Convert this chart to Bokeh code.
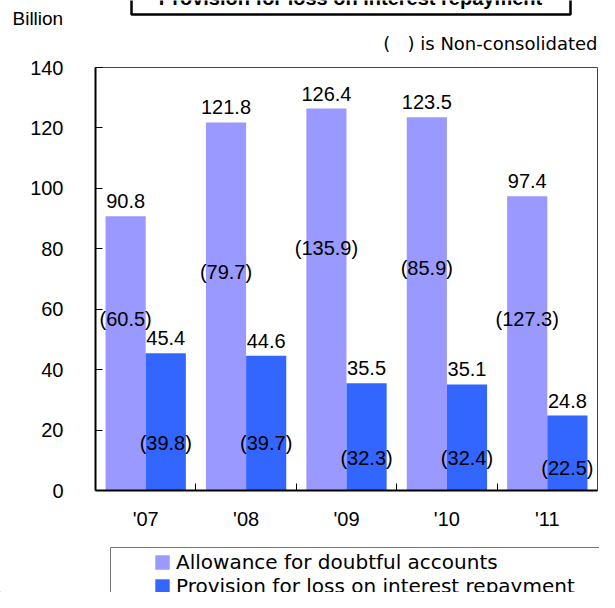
import numpy as np
from bokeh.plotting import figure
from bokeh.layouts import column
from bokeh.models import (Range1d, FixedTicker, Label, BoxAnnotation, Legend,
                          LegendItem, ColumnDataSource)
from bokeh.embed import file_html
from bokeh.resources import INLINE
from bokeh.core.properties import value

# ---------------- data ----------------
years = ["'07", "'08", "'09", "'10", "'11"]
allowance = [90.8, 121.8, 126.4, 123.5, 97.4]
provision = [45.4, 44.6, 35.5, 35.1, 24.8]
allowance_nc = [60.5, 79.7, 135.9, 85.9, 127.3]   # non-consolidated
provision_nc = [39.8, 39.7, 32.3, 32.4, 22.5]     # non-consolidated
y_ticks = [0, 20, 40, 60, 80, 100, 120, 140]
series_names = ["Allowance for doubtful accounts", "Provision for loss on interest repayment"]
chart_title = "Provision for loss on interest repayment"
unit_text = "Billion"
note_text = "(\u00a0\u00a0\u00a0)\u00a0is Non-consolidated"

# label placement (data units) for the bracketed non-consolidated values
allowance_nc_at = [56.9, 72.2, 80.4, 73.5, 56.6]
provision_nc_at = [15.6, 15.6, 10.9, 10.9, 7.3]

NUM_FONT = "Liberation Sans"
TXT_FONT = "DejaVu Sans"
C_LIGHT = "#9999FF"
C_BLUE = "#3366FF"
W = 599

centers = np.arange(len(years)) + 0.5
x_light = centers - 0.2
x_blue = centers + 0.2

src = ColumnDataSource(dict(
    xl=x_light, xb=x_blue,
    a=allowance, p=provision,
    a_txt=[f"{v:.1f}" for v in allowance],
    p_txt=[f"{v:.1f}" for v in provision],
    anc_txt=[f"({v:.1f})" for v in allowance_nc],
    pnc_txt=[f"({v:.1f})" for v in provision_nc],
    anc_y=allowance_nc_at, pnc_y=provision_nc_at,
))


def no_align(f):
    if "frame_align" in f.properties():
        f.frame_align = False
    return f


def blank(height):
    f = figure(width=W, height=height, x_range=Range1d(0, W), y_range=Range1d(0, height),
               output_backend="svg", toolbar_location=None, tools="",
               x_axis_location=None, y_axis_location=None, title_location=None,
               min_border=0, outline_line_color=None,
               background_fill_color="white", border_fill_color="white")
    f.grid.visible = False
    return no_align(f)

# ---------------- header ----------------
HH = 56
header = blank(HH)
header.add_layout(BoxAnnotation(left=131, right=570, bottom=HH - 14, top=HH + 40,
                                fill_color="white", fill_alpha=1,
                                line_color="black", line_alpha=1, line_width=2.5))
header.add_layout(Label(x=350, y=HH - 8, text=chart_title,
                        text_font=NUM_FONT, text_font_style="bold", text_font_size="20px",
                        text_align="center", text_baseline="bottom", text_color="black"))
header.add_layout(Label(x=12, y=HH - 18, text=unit_text,
                        text_font=NUM_FONT, text_font_size="19px", text_align="left",
                        text_baseline="middle", text_color="black"))
header.add_layout(Label(x=597, y=HH - 43, text=note_text,
                        text_font=TXT_FONT, text_font_size="18px", text_align="right",
                        text_baseline="middle", text_color="black"))

# ---------------- main chart ----------------
TOP = 67 - HH
BOT = 55
p = figure(width=W, height=TOP + 423 + BOT, x_range=Range1d(0, len(years)),
           y_range=Range1d(0, 140), output_backend="svg",
           toolbar_location=None, tools="", title_location=None,
           min_border_left=95, min_border_right=2,
           min_border_top=TOP, min_border_bottom=BOT,
           background_fill_color="white", border_fill_color="white",
           outline_line_color="#444444", outline_line_width=1)
no_align(p)
p.grid.visible = False

r1 = p.vbar(x="xl", top="a", width=0.4, source=src, fill_color=C_LIGHT, line_color=None)
r2 = p.vbar(x="xb", top="p", width=0.4, source=src, fill_color=C_BLUE, line_color=None)

common = dict(text_font=value(NUM_FONT), text_font_size="20px", text_color="black",
              text_align="center")
p.text(x="xl", y="a", text="a_txt", source=src, text_baseline="alphabetic", y_offset=-15, **common)
p.text(x="xb", y="p", text="p_txt", source=src, text_baseline="alphabetic", y_offset=-15, **common)
p.text(x="xl", y="anc_y", text="anc_txt", source=src, text_baseline="middle", **common)
p.text(x="xb", y="pnc_y", text="pnc_txt", source=src, text_baseline="middle", **common)

ya = p.yaxis[0]
ya.ticker = FixedTicker(ticks=y_ticks)
ya.major_tick_in = 7
ya.major_tick_out = 0
ya.minor_tick_line_color = None
ya.axis_line_width = 2
ya.axis_line_color = "black"
ya.major_tick_line_color = "black"
ya.major_label_text_font = NUM_FONT
ya.major_label_text_font_size = "20px"
ya.major_label_text_color = "black"
ya.major_label_standoff = 32

xa = p.xaxis[0]
xa.ticker = FixedTicker(ticks=list(centers), minor_ticks=list(range(1, len(years))))
xa.major_label_overrides = {float(c): y for c, y in zip(centers, years)}
xa.major_tick_in = 0
xa.major_tick_out = 0
xa.minor_tick_in = 7
xa.minor_tick_out = 0
xa.minor_tick_line_color = "black"
xa.axis_line_width = 2
xa.axis_line_color = "black"
xa.major_label_text_font = NUM_FONT
xa.major_label_text_font_size = "20px"
xa.major_label_text_color = "black"
xa.major_label_standoff = 17

# ---------------- footer (legend) ----------------
FH = 592 - HH - (TOP + 423 + BOT)
footer = blank(FH)
footer.add_layout(BoxAnnotation(left=110, right=W + 40, top=FH - 2, bottom=-40,
                                fill_alpha=0, line_color="#777777", line_alpha=1,
                                line_width=1))
# legend swatches borrow the bar styles (a single point kept outside the visible range)
d1 = footer.vbar(x=[-500], top=[1], width=1, fill_color=C_LIGHT, line_color=None)
d2 = footer.vbar(x=[-500], top=[1], width=1, fill_color=C_BLUE, line_color=None)
legend = Legend(items=[LegendItem(label=series_names[0], renderers=[d1]),
                       LegendItem(label=series_names[1], renderers=[d2])],
                location=(153, FH - 2 - 3 - 48), padding=0, spacing=0, margin=0,
                glyph_width=18, glyph_height=18, label_height=24, label_standoff=5,
                label_text_font=TXT_FONT, label_text_font_size="20px",
                label_text_color="black", border_line_alpha=0, background_fill_alpha=0)
footer.add_layout(legend)

layout = column(header, p, footer, spacing=0)
open("out.html", "w").write(file_html(layout, INLINE))
